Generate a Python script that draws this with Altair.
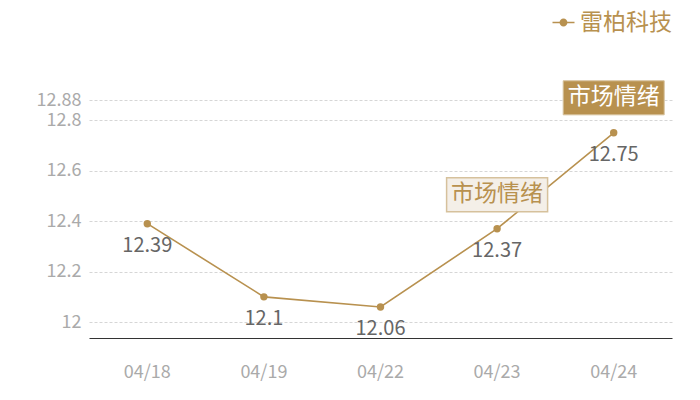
import altair as alt
import pandas as pd

dates = ["04/18", "04/19", "04/22", "04/23", "04/24"]
values = [12.39, 12.1, 12.06, 12.37, 12.75]
series_name = "雷柏科技"
notes = ["", "", "", "light", "dark"]
note_text = "市场情绪"
y_ticks = [12, 12.2, 12.4, 12.6, 12.8, 12.88]

df = pd.DataFrame({"date": dates, "value": values, "series": [series_name] * 5, "note": notes})

GOLD = "#b8914f"
FONT = "Noto Sans CJK SC"

x = alt.X("date:N", sort=dates, title=None,
          scale=alt.Scale(type="band", paddingInner=0, paddingOuter=0),
          axis=alt.Axis(labelAngle=0, labelColor="#aaaaaa", labelFontSize=18, labelFont=FONT,
                        ticks=False, domainColor="#333333", domainWidth=1.2, labelPadding=25,
                        grid=False))
y = alt.Y("value:Q", title=None,
          scale=alt.Scale(domain=[11.937, 12.88], nice=False, zero=False),
          axis=alt.Axis(values=y_ticks, labelExpr="format(datum.value, '.4~g')",
                        labelColor="#aaaaaa", labelFontSize=18,
                        labelFont=FONT, ticks=False, domain=False, gridColor="#d6d6d6",
                        gridDash=[3, 2], labelPadding=8))

legend_symbol = ("M-1,-0.07H1V0.07H-1Z "
                 "M-0.36,0A0.36,0.36 0 1,1 0.36,0A0.36,0.36 0 1,1 -0.36,0Z")

base = alt.Chart(df)

line = base.mark_line(strokeWidth=1.6).encode(
    x=x, y=y,
    color=alt.Color("series:N", scale=alt.Scale(range=[GOLD]),
                    legend=alt.Legend(title=None, orient="none", legendX=463, legendY=-89,
                                      symbolType=legend_symbol, symbolSize=484,
                                      symbolStrokeWidth=0, symbolFillColor=GOLD,
                                      labelFontSize=23, labelColor=GOLD, labelFont=FONT,
                                      labelOffset=5, labelLimit=300)),
)

pts = base.mark_circle(size=55, opacity=1, color=GOLD).encode(x=x, y=y)

labels = base.mark_text(dy=22, fontSize=20, color="#666666", font=FONT).encode(
    x=x, y=y, text=alt.Text("value:Q"))

box_shape = "M-1,-0.337H1V0.337H-1Z"
light_box = base.transform_filter("datum.note == 'light'").mark_point(
    shape=box_shape, size=10201, filled=True, fill="#f4efe8", stroke="#d6c19c",
    strokeWidth=1.5, opacity=1, yOffset=-34).encode(x=x, y=y)
light_txt = base.transform_filter("datum.note == 'light'").mark_text(
    dy=-35, fontSize=23, color=GOLD, font=FONT).encode(x=x, y=y, text=alt.value(note_text))

dark_box = base.transform_filter("datum.note == 'dark'").mark_point(
    shape=box_shape, size=10201, filled=True, fill=GOLD, stroke="#d6c19c",
    strokeWidth=1, opacity=1, yOffset=-35).encode(x=x, y=y)
dark_txt = base.transform_filter("datum.note == 'dark'").mark_text(
    dy=-36, fontSize=23, color="#ffffff", font=FONT).encode(x=x, y=y, text=alt.value(note_text))

chart = alt.layer(line, pts, labels, light_box, light_txt, dark_box, dark_txt).properties(
    width=583, height=238,
    autosize=alt.AutoSizeParams(type="none"),
    padding={"left": 81, "top": 92, "right": 20, "bottom": 50},
    background="#ffffff",
).configure_view(strokeWidth=0, stroke="transparent")

chart.save("out.html", embed_options={"renderer": "svg", "actions": False})
